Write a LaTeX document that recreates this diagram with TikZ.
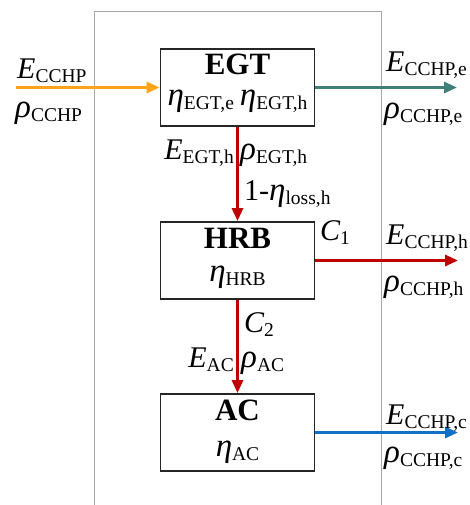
\documentclass[tikz,border=0pt]{standalone}
\usepackage{fontspec}
\setmainfont{Liberation Serif}
\usetikzlibrary{arrows.meta}
\definecolor{corange}{RGB}{255,163,26}
\definecolor{cteal}{RGB}{62,127,122}
\definecolor{cred}{RGB}{192,0,0}
\definecolor{cblue}{RGB}{16,112,200}
\newcommand{\subsz}{\fontsize{19.5}{20}\selectfont}
\newcommand{\mv}[2]{{\itshape #1}\raisebox{-4pt}{\subsz #2}}
\newcommand{\gv}[2]{{\fontsize{33}{33}\selectfont\itshape #1}\raisebox{-4pt}{\subsz #2}}
\begin{document}
\begin{tikzpicture}[x=1pt,y=-1pt,
  font=\fontsize{30}{32}\selectfont,
  blockbox/.style={draw=black!85,line width=1.8pt,minimum width=154pt,minimum height=77pt,inner sep=0pt},
  title/.style={font=\fontsize{31}{31}\selectfont\bfseries,inner sep=0pt,anchor=base,text depth=0pt,text height=21pt},
  lbl/.style={inner sep=0pt},
  par/.style={inner sep=0pt,anchor=base,text height=15pt},
  flow/.style={line width=3pt,-{Triangle[length=13pt,width=11pt]}}]
\useasboundingbox (0,0) rectangle (470,505);
% frame
\draw[gray!70,line width=0.9pt] (94,520) -- (94,11) -- (381,11) -- (381,520);
% boxes
\node[blockbox] (egt) at (237.5,87.5) {};
\node[blockbox] (hrb) at (237.5,260.5) {};
\node[blockbox] (ac) at (237.5,432.5) {};
% titles and parameters
\node[title] (tegt) at (237.5,75) {EGT};
\node[par] (pegt) at (237.5,106) {\gv{η}{EGT,e}\hspace{6pt}\gv{η}{EGT,h}};
\node[title] (thrb) at (237.5,248) {HRB};
\node[par] (phrb) at (237.5,281) {\gv{η}{HRB}};
\node[title] (tac) at (237.5,420) {AC};
\node[par] (pac) at (237.5,456) {\gv{η}{AC}};
% coordinates for free ends
\coordinate (ein) at (16,87.5);
\coordinate (eoute) at (457,87.5);
\coordinate (eouth) at (458,260.5);
\coordinate (eoutc) at (458,432.5);
% arrows
\draw[flow,corange] (ein) -- (egt.west);
\draw[flow,cteal] (egt.east) -- (eoute);
\draw[flow,cred] (egt.south) -- (hrb.north);
\draw[flow,cred] (hrb.east) -- (eouth);
\draw[flow,cred] (hrb.south) -- (ac.north);
\draw[flow,cblue] (ac.east) -- (eoutc);
% labels
\node[lbl,anchor=base west] (l1) at (17,79) {\mv{E}{CCHP}};
\node[lbl,anchor=base west] (l2) at (15,118) {\gv{ρ}{CCHP}};
\node[lbl,anchor=base west] (l3) at (386,72) {\mv{E}{CCHP,e}};
\node[lbl,anchor=base west] (l4) at (384,119) {\gv{ρ}{CCHP,e}};
\node[lbl,anchor=base east] (l5) at (234,159) {\mv{E}{EGT,h}};
\node[lbl,anchor=base west] (l6) at (240,159) {\gv{ρ}{EGT,h}};
\node[lbl,anchor=base west] (l7) at (244,200) {1-\gv{η}{loss,h}};
\node[lbl,anchor=base west] (l8) at (320,240) {\mv{C}{1}};
\node[lbl,anchor=base west] (l9) at (386,244) {\mv{E}{CCHP,h}};
\node[lbl,anchor=base west] (l10) at (384,291) {\gv{ρ}{CCHP,h}};
\node[lbl,anchor=base west] (l11) at (244,332) {\mv{C}{2}};
\node[lbl,anchor=base east] (l12) at (234,367) {\mv{E}{AC}};
\node[lbl,anchor=base west] (l13) at (241,367) {\gv{ρ}{AC}};
\node[lbl,anchor=base west] (l14) at (386,424) {\mv{E}{CCHP,c}};
\node[lbl,anchor=base west] (l15) at (384,462) {\gv{ρ}{CCHP,c}};
\end{tikzpicture}
\end{document}
